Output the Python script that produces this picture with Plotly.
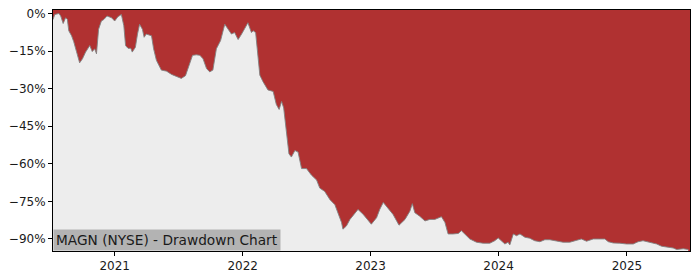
import plotly.graph_objects as go

dates = [
    "2020-07-09", "2020-07-14", "2020-07-26", "2020-07-31", "2020-08-07", "2020-08-14",
    "2020-08-19", "2020-08-23", "2020-08-31", "2020-09-06", "2020-09-14", "2020-09-23",
    "2020-10-01", "2020-10-10", "2020-10-22", "2020-10-29", "2020-11-05", "2020-11-10",
    "2020-11-16", "2020-11-24", "2020-12-01", "2020-12-10", "2020-12-23", "2021-01-01",
    "2021-01-10", "2021-01-20", "2021-01-27", "2021-02-01", "2021-02-08", "2021-02-16",
    "2021-02-20", "2021-03-01", "2021-03-07", "2021-03-13", "2021-03-21", "2021-03-26",
    "2021-04-01", "2021-04-16", "2021-04-22", "2021-04-30", "2021-05-14", "2021-05-29",
    "2021-06-12", "2021-06-26", "2021-07-10", "2021-07-22", "2021-08-01", "2021-08-11",
    "2021-08-22", "2021-09-01", "2021-09-10", "2021-09-20", "2021-09-29", "2021-10-08",
    "2021-10-18", "2021-10-30", "2021-11-11", "2021-11-20", "2021-11-30", "2021-12-09",
    "2021-12-19", "2021-12-29", "2022-01-12", "2022-01-16", "2022-01-26", "2022-01-31",
    "2022-02-07", "2022-02-14", "2022-02-19", "2022-02-28", "2022-03-14", "2022-03-29",
    "2022-04-07", "2022-04-15", "2022-04-22", "2022-04-28", "2022-05-06", "2022-05-13",
    "2022-05-20", "2022-05-30", "2022-06-08", "2022-06-18", "2022-07-02", "2022-07-16",
    "2022-07-31", "2022-08-09", "2022-08-23", "2022-09-07", "2022-09-21", "2022-09-30",
    "2022-10-10", "2022-10-14", "2022-10-24", "2022-11-03", "2022-11-17", "2022-11-26",
    "2022-12-11", "2022-12-25", "2023-01-03", "2023-01-18", "2023-01-27", "2023-02-06",
    "2023-02-20", "2023-03-06", "2023-03-23", "2023-04-09", "2023-04-23", "2023-04-30",
    "2023-05-07", "2023-05-21", "2023-06-05", "2023-06-19", "2023-07-03", "2023-07-22",
    "2023-08-01", "2023-08-10", "2023-08-24", "2023-09-08", "2023-09-17", "2023-10-02",
    "2023-10-11", "2023-10-30", "2023-11-18", "2023-12-07", "2023-12-21", "2023-12-31",
    "2024-01-09", "2024-01-19", "2024-01-28", "2024-02-02", "2024-02-12", "2024-02-21",
    "2024-03-02", "2024-03-16", "2024-03-30", "2024-04-13", "2024-04-28", "2024-05-12",
    "2024-05-26", "2024-06-14", "2024-07-03", "2024-07-22", "2024-08-10", "2024-08-24",
    "2024-09-08", "2024-09-27", "2024-10-16", "2024-10-30", "2024-11-09", "2024-11-23",
    "2024-12-12", "2024-12-31", "2025-01-19", "2025-02-02", "2025-02-16", "2025-03-08",
    "2025-03-27", "2025-04-10", "2025-04-29", "2025-05-13", "2025-05-23", "2025-06-11",
    "2025-06-25",
]

drawdown = [
    -2.4, -0.4, 0.0, -1.0, -4.0, -1.7,
    -2.4, -6.9, -8.9, -11.2, -15.2, -19.7,
    -18.1, -15.4, -12.8, -15.2, -14.1, -16.1,
    -6.3, -3.0, -2.4, -1.0, -1.7, -3.0,
    -1.3, -0.4, -4.9, -12.8, -13.9, -13.9,
    -15.4, -13.5, -8.2, -4.3, -6.3, -9.5,
    -8.2, -8.9, -14.1, -18.7, -22.6, -23.0,
    -24.3, -25.2, -25.9, -24.8, -20.6, -16.7,
    -16.5, -16.7, -18.1, -22.0, -23.3, -22.6,
    -14.1, -10.8, -4.3, -6.3, -8.2, -7.6,
    -10.4, -8.2, -4.3, -3.7, -7.6, -6.9,
    -7.6, -18.1, -24.6, -27.2, -30.5, -31.1,
    -36.3, -38.3, -35.1, -37.7, -46.8, -56.0,
    -57.3, -54.7, -55.3, -61.9, -61.9, -64.5,
    -66.5, -69.7, -71.0, -74.3, -76.3, -79.5,
    -83.4, -86.1, -84.8, -82.2, -79.5, -78.2,
    -80.2, -82.8, -84.1, -81.5, -78.2, -75.4,
    -77.6, -80.2, -84.5, -82.2, -78.9, -75.9,
    -79.5, -80.9, -82.8, -82.2, -82.2, -81.1,
    -83.4, -88.0, -88.0, -87.8, -86.7, -88.7,
    -90.0, -91.3, -91.7, -91.7, -90.7, -89.6,
    -90.7, -92.0, -91.3, -92.4, -88.0, -88.7,
    -88.0, -89.3, -89.7, -90.7, -91.1, -90.3,
    -90.3, -90.7, -91.3, -91.3, -90.7, -90.0,
    -90.9, -90.0, -90.0, -90.0, -91.1, -91.6,
    -91.7, -92.0, -92.0, -91.1, -90.7, -91.3,
    -92.0, -92.9, -93.4, -93.6, -94.2, -93.9,
    -94.2,
]

y_ticks = [0, -15, -30, -45, -60, -75, -90]
y_tick_labels = ["0%", "\u221215%", "\u221230%", "\u221245%", "\u221260%", "\u221275%", "\u221290%"]
x_range = ["2020-07-09", "2025-06-30"]
y_range = [-94.8, 1.4]
floor_value = -100
title_text = "MAGN (NYSE) - Drawdown Chart"

RED = "#b03131"
GRAY = "#ededed"

fig = go.Figure()
fig.add_trace(go.Scatter(
    x=dates, y=[floor_value] * len(dates), mode="lines",
    line=dict(width=0), hoverinfo="skip", showlegend=False,
))
fig.add_trace(go.Scatter(
    x=dates, y=drawdown, mode="lines", fill="tonexty", fillcolor=GRAY,
    line=dict(color="rgba(130,130,130,0.9)", width=1), showlegend=False,
))

font = dict(family="DejaVu Sans", size=12, color="#1a1a1a")
fig.update_layout(
    width=700, height=280,
    margin=dict(l=53, r=10, t=7, b=28),
    paper_bgcolor="white", plot_bgcolor=RED,
    font=font,
    showlegend=False,
)
fig.update_xaxes(
    range=x_range, showgrid=False, zeroline=False,
    showline=True, linecolor="black", linewidth=1, mirror=True,
    ticks="outside", ticklen=4, tickcolor="black",
    dtick="M12", tick0="2021-01-01", tickformat="%Y",
)
fig.update_yaxes(
    range=y_range, showgrid=False, zeroline=False,
    showline=True, linecolor="black", linewidth=1, mirror=True,
    ticks="outside", ticklen=4, tickcolor="black",
    tickvals=y_ticks, ticktext=y_tick_labels,
)
fig.add_annotation(
    text=title_text, xref="paper", yref="paper", x=0, y=0,
    xanchor="left", yanchor="bottom", showarrow=False,
    bgcolor="#b3b3b3", borderpad=2,
    font=dict(family="DejaVu Sans", size=13.7, color="#1a1a1a"),
)

fig.write_html("out.html")
